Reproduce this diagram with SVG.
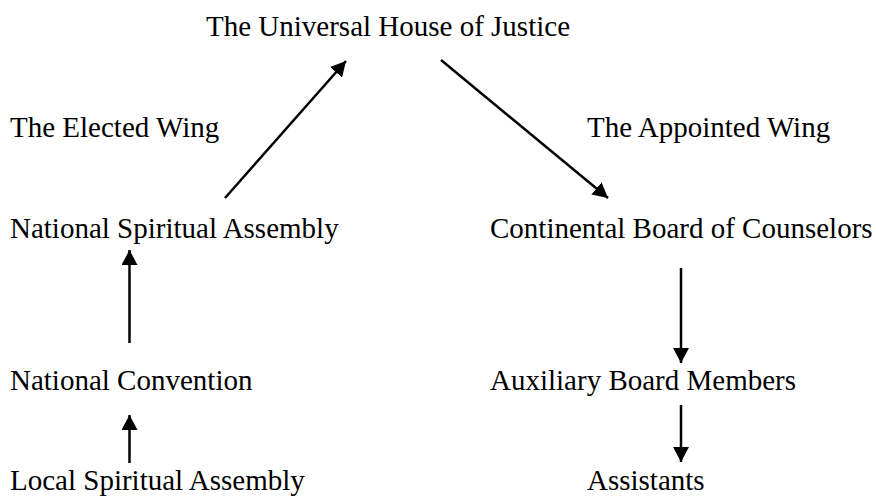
<svg xmlns="http://www.w3.org/2000/svg" width="876" height="496" viewBox="0 0 876 496">
<style>
text{font-family:"Liberation Serif","Times New Roman",serif;font-size:29px;fill:#000}
.c line{stroke:#000;stroke-width:2.5;marker-end:url(#ah)}
</style>
<defs>
<marker id="ah" markerUnits="userSpaceOnUse" markerWidth="16" markerHeight="16" refX="15" refY="8" orient="auto" viewBox="0 0 16 16">
<path d="M0,0 L15,8 L0,16 z" fill="#000"/>
</marker>
</defs>
<rect width="876" height="496" fill="#fff"/>
<g id="uhj"><text x="206" y="36">The Universal House of Justice</text></g>
<g id="elected"><text x="10" y="137">The Elected Wing</text></g>
<g id="appointed"><text x="587" y="137">The Appointed Wing</text></g>
<g id="nsa"><text x="10" y="238">National Spiritual Assembly</text></g>
<g id="cbc"><text x="490" y="238">Continental Board of Counselors</text></g>
<g id="nc"><text x="10" y="390">National Convention</text></g>
<g id="abm"><text x="490" y="390">Auxiliary Board Members</text></g>
<g id="lsa"><text x="10" y="490">Local Spiritual Assembly</text></g>
<g id="assistants"><text x="587" y="490">Assistants</text></g>
<g class="c" id="connectors">
<line x1="225" y1="198" x2="346" y2="61"/>
<line x1="441" y1="60" x2="608" y2="198"/>
<line x1="129.5" y1="343" x2="129.5" y2="250"/>
<line x1="129.5" y1="463" x2="129.5" y2="415"/>
<line x1="681" y1="268" x2="681" y2="363"/>
<line x1="681" y1="405" x2="681" y2="462"/>
</g>
</svg>
